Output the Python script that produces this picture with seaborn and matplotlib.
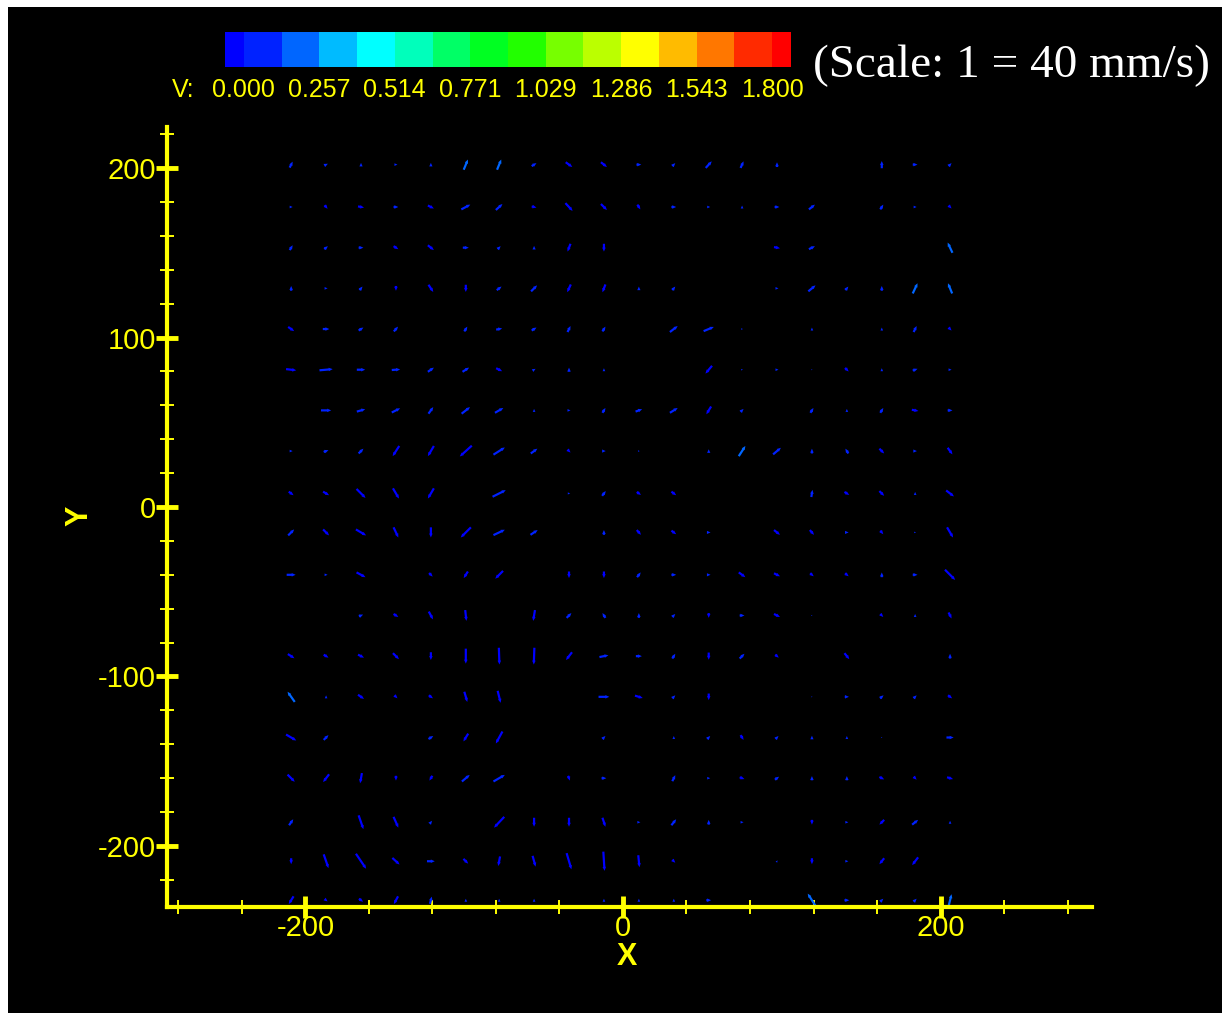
import numpy as np
import matplotlib
matplotlib.use("Agg")
import matplotlib.pyplot as plt
import seaborn as sns
from matplotlib.colors import ListedColormap, BoundaryNorm
from matplotlib.ticker import MultipleLocator

sns.set_theme(style="dark")
plt.rcParams['font.family'] = ['Liberation Sans', 'DejaVu Sans']
plt.rcParams['axes.unicode_minus'] = False

N = None
# grid positions (mm)
x_cols = [-209, -187, -165, -143, -121, -99, -78, -56, -34, -12,
          10, 32, 54, 75, 97, 119, 141, 163, 184, 206]
y_rows = [226, 202, 177, 153, 129, 105, 81, 57, 33, 8,
          -15, -40, -64, -88, -112, -136, -160, -186, -209, -232]

# velocity components (one row per y_rows entry)
U = [
    [N, N, N, N, N, N, N, N, N, N, N, N, N, N, N, N, N, N, N, 0.0],
    [0.05, 0.06, 0.0, 0.05, 0.0, 0.07, 0.07, 0.08, 0.11, 0.10, 0.08, 0.05, 0.10, 0.05, 0.0, N, N, 0.0, 0.08, 0.05],
    [0.05, 0.05, 0.10, 0.08, 0.10, 0.15, 0.11, 0.08, 0.12, 0.10, 0.05, 0.08, 0.05, 0.0, 0.08, 0.10, N, 0.05, 0.05, 0.05],
    [0.05, 0.06, 0.08, 0.08, 0.10, 0.10, 0.05, 0.0, -0.05, 0.0, N, N, N, N, 0.10, 0.10, N, N, N, -0.08],
    [0.0, 0.05, 0.05, 0.0, 0.08, 0.0, 0.08, 0.10, -0.06, -0.05, 0.0, 0.05, N, N, 0.05, 0.12, 0.05, 0.0, 0.08, -0.07],
    [0.10, 0.11, 0.08, 0.07, N, 0.05, 0.10, 0.08, 0.05, 0.05, N, 0.13, 0.17, 0.03, N, 0.0, N, 0.0, 0.05, 0.05],
    [0.17, 0.22, 0.14, 0.14, 0.10, 0.11, 0.10, 0.05, 0.0, 0.0, N, N, -0.11, 0.03, 0.05, 0.02, 0.06, 0.0, 0.08, 0.05],
    [N, 0.17, 0.14, 0.14, 0.08, 0.14, 0.14, 0.0, 0.05, 0.05, 0.11, 0.13, -0.08, 0.05, N, 0.05, 0.0, 0.05, 0.11, 0.08],
    [0.05, 0.08, 0.08, -0.11, -0.10, -0.20, 0.19, 0.11, 0.05, 0.06, 0.03, N, 0.0, 0.11, 0.13, 0.0, -0.05, 0.08, 0.06, 0.08],
    [0.08, 0.10, 0.15, 0.10, -0.10, N, 0.22, N, 0.04, 0.06, 0.07, 0.08, N, N, N, 0.02, 0.08, 0.08, 0.0, 0.13],
    [0.10, 0.10, 0.17, 0.08, 0.0, -0.17, 0.19, 0.12, N, 0.0, 0.07, 0.08, 0.06, N, 0.10, 0.07, 0.06, 0.05, 0.03, 0.10],
    [0.15, 0.05, 0.15, N, 0.06, -0.07, -0.13, N, 0.0, 0.0, 0.06, 0.08, 0.06, 0.11, 0.10, 0.06, 0.06, 0.0, 0.08, 0.17],
    [N, N, 0.07, 0.08, 0.07, 0.02, N, -0.03, 0.08, -0.05, 0.0, 0.05, 0.0, 0.08, 0.10, 0.02, N, 0.05, 0.0, 0.05],
    [0.11, 0.08, 0.10, 0.10, 0.0, 0.0, 0.01, -0.01, -0.10, 0.15, 0.10, 0.05, 0.0, 0.08, 0.06, N, 0.08, N, N, 0.0],
    [-0.12, 0.0, 0.10, 0.05, 0.07, 0.05, 0.05, N, N, 0.18, 0.13, 0.05, 0.0, N, N, 0.02, 0.07, 0.06, 0.05, 0.07],
    [0.17, 0.08, N, N, 0.08, -0.08, -0.11, N, N, 0.05, N, 0.0, 0.05, 0.05, 0.05, 0.0, 0.0, 0.02, N, 0.12],
    [0.12, -0.10, -0.03, 0.0, -0.05, 0.13, 0.19, N, 0.03, 0.08, N, 0.05, 0.05, 0.08, 0.07, 0.0, 0.0, 0.08, 0.05, 0.10],
    [0.07, N, 0.08, 0.08, 0.04, N, -0.17, 0.0, 0.0, 0.05, 0.05, 0.08, 0.0, 0.05, N, 0.0, 0.05, -0.08, 0.10, 0.0],
    [0.0, 0.08, 0.17, 0.12, 0.13, 0.08, -0.03, 0.05, 0.08, 0.02, 0.02, 0.05, N, N, 0.02, 0.0, 0.05, -0.08, -0.10, N],
    [-0.08, 0.05, 0.07, -0.07, 0.03, 0.0, 0.0, 0.0, N, 0.0, 0.0, 0.0, 0.08, N, N, -0.14, 0.08, 0.05, 0.05, 0.05],
]
V = [
    [N, N, N, N, N, N, N, N, N, N, N, N, N, N, N, N, N, N, N, 0.05],
    [0.10, 0.03, 0.06, 0.0, 0.06, 0.17, 0.17, 0.05, -0.08, -0.08, 0.0, 0.05, 0.11, 0.11, 0.08, N, N, 0.12, 0.0, 0.05],
    [0.0, -0.06, -0.02, 0.0, -0.05, 0.08, 0.10, -0.02, -0.13, -0.10, -0.08, 0.0, 0.0, 0.05, 0.0, 0.08, N, 0.08, 0.0, -0.05],
    [0.08, 0.05, 0.0, -0.05, -0.08, 0.0, 0.05, 0.06, -0.13, -0.13, N, N, N, N, -0.02, 0.05, N, N, N, 0.17],
    [0.08, 0.0, 0.06, -0.08, -0.12, -0.12, 0.06, 0.10, -0.13, -0.13, 0.06, 0.06, N, N, 0.0, 0.10, 0.06, 0.08, 0.17, 0.17],
    [-0.07, 0.0, 0.05, 0.08, N, 0.08, 0.02, 0.05, 0.10, 0.08, N, 0.10, 0.07, 0.0, N, 0.05, N, 0.05, 0.10, -0.05],
    [-0.02, 0.02, 0.0, 0.01, 0.07, 0.07, -0.05, 0.03, 0.07, 0.05, N, N, -0.13, 0.0, 0.0, 0.0, -0.06, 0.05, 0.03, 0.0],
    [N, 0.0, 0.04, 0.07, 0.11, 0.11, 0.08, 0.05, 0.0, 0.08, 0.04, 0.08, -0.13, 0.05, N, 0.08, 0.05, 0.08, -0.02, 0.0],
    [0.0, 0.03, 0.08, -0.17, -0.17, -0.18, 0.12, 0.08, -0.05, 0.0, 0.0, N, 0.06, 0.17, 0.11, 0.08, 0.08, -0.08, 0.0, -0.11],
    [-0.06, -0.06, -0.15, -0.17, -0.17, N, 0.11, N, 0.0, 0.08, -0.05, -0.06, N, N, N, 0.12, -0.05, -0.08, 0.05, -0.10],
    [0.10, -0.10, -0.10, -0.17, -0.17, -0.17, 0.09, 0.08, N, 0.08, -0.08, -0.06, 0.0, N, -0.08, -0.08, 0.0, -0.06, 0.0, -0.17],
    [0.0, 0.0, -0.08, N, -0.06, -0.11, -0.13, N, -0.11, -0.11, 0.08, 0.0, 0.0, -0.08, -0.05, -0.05, -0.05, 0.08, 0.0, -0.17],
    [N, N, 0.03, -0.05, -0.13, -0.18, N, -0.18, 0.08, 0.08, 0.08, 0.05, -0.08, 0.0, -0.05, 0.0, N, -0.05, 0.05, -0.10],
    [-0.07, -0.05, -0.05, -0.10, -0.13, -0.25, -0.28, -0.28, -0.13, 0.03, 0.0, 0.08, -0.12, 0.08, -0.05, N, -0.10, N, N, 0.08],
    [0.17, 0.05, -0.07, -0.05, -0.05, -0.17, -0.20, N, N, 0.0, -0.04, 0.05, -0.11, N, N, 0.0, 0.0, 0.05, 0.05, -0.05],
    [-0.10, 0.08, N, N, 0.05, -0.13, -0.20, N, N, 0.05, N, 0.05, 0.05, -0.08, 0.05, 0.06, 0.05, 0.0, N, 0.0],
    [-0.12, -0.13, -0.17, -0.08, -0.08, 0.11, 0.11, N, -0.08, 0.0, N, 0.10, 0.0, -0.03, 0.05, 0.07, 0.07, -0.04, -0.05, -0.03],
    [0.10, N, -0.23, -0.18, 0.05, N, -0.18, -0.15, -0.15, -0.15, 0.0, 0.10, 0.08, 0.0, N, -0.08, 0.0, -0.08, 0.08, 0.05],
    [-0.10, -0.23, -0.25, -0.11, 0.0, -0.08, -0.16, -0.18, -0.27, -0.32, -0.20, -0.05, N, N, 0.03, -0.10, 0.0, -0.10, -0.13, N],
    [-0.13, -0.04, -0.05, -0.13, 0.12, 0.05, 0.05, 0.05, N, 0.05, 0.05, 0.05, 0.0, N, N, 0.22, 0.0, 0.05, 0.05, 0.20],
]

# contour legend
levels = [0.0, 0.1286, 0.2571, 0.3857, 0.5143, 0.6429, 0.7714, 0.9,
          1.0286, 1.1571, 1.2857, 1.4143, 1.5429, 1.6714, 1.8]
label_values = [0.0, 0.2571, 0.5143, 0.7714, 1.0286, 1.2857, 1.5429, 1.8]
label_texts = ["0.000", "0.257", "0.514", "0.771", "1.029", "1.286", "1.543", "1.800"]
band_colors = ["#0000ff", "#0022ff", "#0066ff", "#00bbff", "#00ffff", "#00ffbb",
               "#00ff66", "#00ff22", "#22ff00", "#77ff00", "#bbff00", "#ffff00",
               "#ffbb00", "#ff7700", "#ff2a00", "#ff0000"]

YEL = "#ffff00"
W, H = 1222, 1013
fig = plt.figure(figsize=(W / 100, H / 100), dpi=100, facecolor="white")

# black background panel (white strip kept at top/left edges)
bg = fig.add_axes([8 / W, 0, 1 - 8 / W, 1 - 7 / H], zorder=-10)
bg.set_facecolor("black")
bg.set_xticks([])
bg.set_yticks([])
for s in bg.spines.values():
    s.set_visible(False)


def fy(py):
    return 1 - py / H


ax = fig.add_axes([167 / W, fy(907), (1092 - 167) / W, (907 - 127) / H], zorder=1)
ax.set_facecolor("none")
ax.grid(False)
ax.set_xlim(-287.2, 295.4)
ax.set_ylim(-236.0, 224.2)

X, Y = np.meshgrid(np.array(x_cols, float), np.array(y_rows, float))
Ua = np.array([[np.nan if v is None else v for v in row] for row in U], float)
Va = np.array([[np.nan if v is None else v for v in row] for row in V], float)
m = ~np.isnan(Ua) & ~np.isnan(Va)

cmap = ListedColormap(band_colors)
norm = BoundaryNorm([-10.0] + levels + [10.0], cmap.N)
ax.quiver(X[m], Y[m], Ua[m], Va[m], Va[m], cmap=cmap, norm=norm,
          units="dots", width=2.2, scale_units="dots", scale=1 / 60.0,
          angles="uv", pivot="middle", headwidth=1.6, headlength=1.8,
          headaxislength=1.8, minlength=0.5, zorder=2)

for s in ["top", "right"]:
    ax.spines[s].set_visible(False)
for s in ["left", "bottom"]:
    ax.spines[s].set_color(YEL)
    ax.spines[s].set_linewidth(3)
    ax.spines[s].set_zorder(3)

ax.set_xticks([-200, 0, 200])
ax.set_yticks([-200, -100, 0, 100, 200])
ax.xaxis.set_minor_locator(MultipleLocator(40))
ax.yaxis.set_minor_locator(MultipleLocator(20))
ax.tick_params(which="major", direction="inout", length=16, width=3.5, color=YEL,
               labelcolor=YEL, labelsize=21)
ax.tick_params(which="minor", direction="inout", length=10, width=1.4, color=YEL)
ax.tick_params(axis="x", which="major", pad=-3)
ax.tick_params(axis="y", which="major", pad=0)
ax.tick_params(bottom=True, left=True, which="both")

fig.text(627 / W, fy(957), "X", color=YEL, fontsize=22, fontweight="bold",
         ha="center", va="center")
fig.text(79 / W, fy(516), "Y", color=YEL, fontsize=22, fontweight="bold",
         rotation=90, ha="center", va="center")

# colour legend
cax = fig.add_axes([225 / W, fy(67), (791 - 225) / W, 35 / H], zorder=1)
half = (levels[1] - levels[0]) / 2
lefts = [levels[0] - half] + levels
rights = levels + [levels[-1] + half]
widths = [r - l for l, r in zip(lefts, rights)]
cax.bar(lefts, [1] * len(lefts), width=widths, align="edge", color=band_colors,
        edgecolor="none")
cax.set_xlim(lefts[0], rights[-1])
cax.set_ylim(0, 1)
cax.axis("off")
tr = cax.get_xaxis_transform()
for val, txt in zip(label_values, label_texts):
    cax.text(val, (67 - 90) / 35, txt, transform=tr, color=YEL, fontsize=18,
             ha="center", va="center")
fig.text(183 / W, fy(90), "V:", color=YEL, fontsize=18, ha="center", va="center")

fig.text(813 / W, fy(66), "(Scale: 1 = 40 mm/s)", color="white", fontsize=34,
         family=["Liberation Serif", "DejaVu Serif"], ha="left", va="center")

fig.savefig("out.png", dpi=100, facecolor=fig.get_facecolor())
